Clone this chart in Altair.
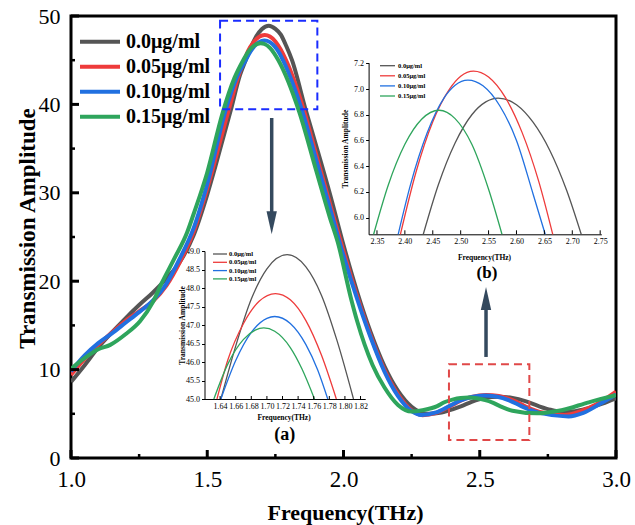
import altair as alt
import pandas as pd

SERIF = "Liberation Serif"
SERIES = ["0.0μg/ml", "0.05μg/ml", "0.10μg/ml", "0.15μg/ml"]
COLORS = ["#555555", "#ee3b3b", "#2170e0", "#2ea55c"]

# ---------------- main curves ----------------
k_x = [1.00, 1.05, 1.10, 1.15, 1.20, 1.25, 1.30, 1.35, 1.40, 1.45, 1.50, 1.53, 1.586, 1.62, 1.641, 1.66, 1.68,
       1.70, 1.726, 1.75, 1.77, 1.79, 1.811, 1.862, 1.90, 1.95, 2.00, 2.05, 2.10, 2.15, 2.20, 2.25, 2.31, 2.36,
       2.40, 2.433, 2.47, 2.52, 2.57, 2.62, 2.67, 2.716, 2.76, 2.80, 2.85, 2.90, 2.95, 3.00]
k_y = [8.6, 10.5, 12.5, 14.2, 15.8, 17.3, 18.7, 20.3, 22.2, 25.2, 29.8, 33.0, 39.3, 43.3, 45.0, 46.43, 47.7,
       48.5, 48.9, 48.55, 47.9, 46.6, 45.0, 39.3, 35.3, 29.9, 24.1, 18.8, 14.2, 10.4, 7.6, 5.8, 5.0, 5.15,
       5.5, 5.87, 6.35, 6.8, 6.93, 6.8, 6.4, 5.87, 5.45, 5.25, 5.3, 5.65, 6.15, 6.75]

r_x = [1.00, 1.05, 1.10, 1.15, 1.20, 1.25, 1.30, 1.35, 1.40, 1.45, 1.50, 1.578, 1.62, 1.636, 1.65, 1.67, 1.69,
       1.711, 1.73, 1.75, 1.77, 1.789, 1.855, 1.90, 1.95, 2.00, 2.05, 2.10, 2.15, 2.20, 2.25, 2.29, 2.34, 2.392,
       2.43, 2.47, 2.523, 2.57, 2.62, 2.665, 2.72, 2.81, 2.87, 2.93, 3.00]
r_y = [9.4, 11.2, 12.8, 14.2, 15.5, 16.6, 17.7, 19.5, 22.2, 25.6, 30.5, 39.3, 43.7, 45.0, 46.06, 47.04, 47.64,
       47.85, 47.68, 47.12, 46.18, 45.0, 39.3, 34.3, 28.8, 23.4, 18.3, 13.8, 10.0, 7.2, 5.4, 4.85, 5.1, 5.87,
       6.49, 6.91, 7.14, 7.02, 6.56, 5.87, 5.2, 4.87, 5.3, 6.1, 7.5]

b_x = [1.00, 1.05, 1.10, 1.15, 1.20, 1.25, 1.30, 1.35, 1.40, 1.45, 1.50, 1.567, 1.61, 1.641, 1.66, 1.68, 1.70,
       1.71, 1.73, 1.75, 1.765, 1.778, 1.848, 1.90, 1.95, 2.00, 2.05, 2.10, 2.15, 2.20, 2.25, 2.285, 2.34, 2.388,
       2.43, 2.47, 2.515, 2.56, 2.61, 2.652, 2.72, 2.826, 2.88, 2.94, 3.00]
b_y = [9.8, 11.6, 13.0, 14.1, 15.3, 16.5, 17.8, 19.7, 22.6, 26.0, 31.0, 39.3, 43.2, 45.0, 46.04, 46.8, 47.18,
       47.23, 47.04, 46.47, 45.79, 45.0, 39.3, 33.7, 28.3, 22.9, 18.0, 13.6, 9.8, 7.0, 5.3, 4.87, 5.15, 5.87,
       6.52, 6.9, 7.07, 6.95, 6.5, 5.87, 5.1, 4.7, 5.1, 6.1, 7.2]

g_x = [1.00, 1.05, 1.10, 1.144, 1.20, 1.254, 1.30, 1.33, 1.38, 1.426, 1.45, 1.50, 1.556, 1.60, 1.632, 1.65, 1.67,
       1.685, 1.696, 1.71, 1.73, 1.745, 1.761, 1.836, 1.90, 1.95, 1.979, 2.028, 2.05, 2.107, 2.15, 2.20, 2.25,
       2.29, 2.344, 2.37, 2.40, 2.43, 2.458, 2.49, 2.52, 2.545, 2.574, 2.62, 2.71, 2.80, 2.90, 3.00]
g_y = [10.1, 11.3, 12.3, 12.8, 14.0, 15.5, 17.6, 19.6, 22.6, 25.5, 27.6, 32.3, 39.0, 43.0, 45.0, 45.95, 46.61,
       46.86, 46.92, 46.83, 46.39, 45.81, 45.0, 39.3, 32.5, 27.2, 24.4, 18.0, 15.5, 10.5, 8.0, 6.0, 5.25,
       5.4, 5.87, 6.31, 6.61, 6.79, 6.835, 6.76, 6.55, 6.3, 5.87, 5.35, 5.05, 5.4, 6.3, 7.1]

# ---------------- inset (a) ----------------
ak_x = [1.641, 1.66, 1.68, 1.70, 1.726, 1.75, 1.77, 1.79, 1.811]
ak_y = [45.0, 46.43, 47.7, 48.52, 48.9, 48.57, 47.8, 46.57, 45.0]
ar_x = [1.636, 1.65, 1.67, 1.69, 1.711, 1.73, 1.75, 1.77, 1.789]
ar_y = [45.0, 46.06, 47.04, 47.64, 47.85, 47.68, 47.12, 46.18, 45.0]
ab_x = [1.641, 1.66, 1.68, 1.70, 1.71, 1.73, 1.75, 1.765, 1.778]
ab_y = [45.0, 46.04, 46.8, 47.18, 47.23, 47.04, 46.47, 45.79, 45.0]
ag_x = [1.632, 1.65, 1.67, 1.685, 1.696, 1.71, 1.73, 1.745, 1.761]
ag_y = [45.0, 45.95, 46.61, 46.86, 46.92, 46.83, 46.39, 45.81, 45.0]

# ---------------- inset (b) ----------------
bk_x = [2.433, 2.46, 2.49, 2.52, 2.545, 2.567, 2.60, 2.63, 2.66, 2.69, 2.716]
bk_y = [5.87, 6.255, 6.58, 6.80, 6.90, 6.93, 6.878, 6.74, 6.52, 6.21, 5.87]
br_x = [2.392, 2.42, 2.45, 2.48, 2.50, 2.523, 2.55, 2.58, 2.61, 2.64, 2.665]
br_y = [5.87, 6.355, 6.746, 7.0, 7.10, 7.14, 7.094, 6.935, 6.663, 6.28, 5.87]
bb_x = [2.388, 2.41, 2.44, 2.47, 2.49, 2.513, 2.54, 2.57, 2.60, 2.63, 2.6515]
bb_y = [5.87, 6.255, 6.66, 6.93, 7.03, 7.07, 7.025, 6.87, 6.60, 6.18, 5.87]
bg_x = [2.344, 2.37, 2.40, 2.43, 2.4615, 2.49, 2.52, 2.55, 2.574]
bg_y = [5.87, 6.25, 6.57, 6.765, 6.835, 6.77, 6.57, 6.22, 5.87]

# tick values
main_xticks = [1.0, 1.5, 2.0, 2.5, 3.0]
main_xminor = [1.25, 1.75, 2.25, 2.75]
main_yticks = [0, 10, 20, 30, 40, 50]
main_yminor = [5, 15, 25, 35, 45]
a_xticks = [1.64, 1.66, 1.68, 1.70, 1.72, 1.74, 1.76, 1.78, 1.80, 1.82]
a_yticks = [45.0, 45.5, 46.0, 46.5, 47.0, 47.5, 48.0, 48.5, 49.0]
b_xticks = [2.35, 2.40, 2.45, 2.50, 2.55, 2.60, 2.65, 2.70, 2.75]
b_yticks = [6.0, 6.2, 6.4, 6.6, 6.8, 7.0, 7.2]

# zoom boxes and arrows (data coordinates of the main axes)
box_x1 = [1.547, 2.387]
box_x2 = [1.904, 2.682]
box_y1 = [39.45, 2.04]
box_y2 = [49.47, 10.6]
box_col = ["#1a2cff", "#e04848"]
arrow_x = [1.7365, 2.523]
arrow_y1 = [38.46, 11.43]
arrow_y2 = [27.8, 16.74]
head_y = [26.6, 18.04]

W, H = 545, 442


def long_df(pairs):
    rows = []
    for name, (xs, ys) in zip(SERIES, pairs):
        for x, y in zip(xs, ys):
            rows.append({"series": name, "x": x, "y": y})
    return pd.DataFrame(rows)


main_df = long_df([(k_x, k_y), (r_x, r_y), (b_x, b_y), (g_x, g_y)])
a_df = long_df([(ak_x, ak_y), (ar_x, ar_y), (ab_x, ab_y), (ag_x, ag_y)])
b_df = long_df([(bk_x, bk_y), (br_x, br_y), (bb_x, bb_y), (bg_x, bg_y)])

color_scale = alt.Scale(domain=SERIES, range=COLORS)

# ---------------- main group ----------------
mX = alt.X("x:Q", scale=alt.Scale(domain=[1, 3], nice=False, zero=False),
           axis=alt.Axis(orient="bottom", values=main_xticks, format=".1f", domain=False, ticks=False,
                         grid=False, labelFont=SERIF, labelFontSize=23, labelPadding=10, labelFlush=False,
                         labelColor="black", title="Frequency(THz)", titleFont=SERIF, titleFontSize=22,
                         titleFontWeight="bold", titleColor="black", titleX=274, titleY=54,
                         titleBaseline="middle"))
mY = alt.Y("y:Q", scale=alt.Scale(domain=[0, 50], nice=False, zero=False),
           axis=alt.Axis(orient="left", values=main_yticks, format="d", domain=False, ticks=False,
                         grid=False, labelFont=SERIF, labelFontSize=22, labelPadding=11, labelColor="black",
                         title="Transmission Amplitude", titleFont=SERIF, titleFontSize=23,
                         titleFontWeight="bold", titleColor="black", titleX=-44, titleY=212,
                         titleBaseline="middle", titleAngle=-90, titleAlign="center"))

main_lines = alt.Chart(main_df).mark_line(strokeWidth=4, interpolate="monotone", clip=True).encode(
    x=mX, y=mY, color=alt.Color("series:N", sort=SERIES, scale=color_scale, legend=None))

xt_major = alt.Chart(pd.DataFrame({"x": main_xticks})).mark_rule(color="black", strokeWidth=3).encode(
    x=mX, y=alt.value(H), y2=alt.value(H - 8))
xt_minor = alt.Chart(pd.DataFrame({"x": main_xminor})).mark_rule(color="black", strokeWidth=2.5).encode(
    x=mX, y=alt.value(H), y2=alt.value(H - 4))
yt_major = alt.Chart(pd.DataFrame({"y": main_yticks})).mark_rule(color="black", strokeWidth=3).encode(
    y=mY, x=alt.value(0), x2=alt.value(8))
yt_minor = alt.Chart(pd.DataFrame({"y": main_yminor})).mark_rule(color="black", strokeWidth=2.5).encode(
    y=mY, x=alt.value(0), x2=alt.value(4))

box_df = pd.DataFrame({"x": box_x1, "x2": box_x2, "y": box_y1, "y2": box_y2, "c": box_col})
boxes = alt.Chart(box_df).mark_rect(filled=False, strokeWidth=2, strokeDash=[8, 5]).encode(
    x=mX, x2="x2:Q", y=mY, y2="y2:Q", stroke=alt.Stroke("c:N", scale=None))

arr_df = pd.DataFrame({"x": arrow_x, "y": arrow_y1, "y2": arrow_y2, "hy": head_y,
                       "shape": ["M-0.45,-1L0.45,-1L0,1Z", "M-0.45,1L0.45,1L0,-1Z"]})
shafts = alt.Chart(arr_df).mark_rule(color="#34495e", strokeWidth=3.5).encode(x=mX, y=mY, y2="y2:Q")
heads = alt.Chart(arr_df).transform_calculate(y="datum.hy").mark_point(
    filled=True, size=529, color="#34495e", opacity=1).encode(
    x=mX, y=mY, shape=alt.Shape("shape:N", scale=None))

main_group = alt.layer(main_lines, boxes, shafts, heads, xt_major, xt_minor, yt_major, yt_minor)

# ---------------- inset (a) ----------------
small_axis = dict(labelFont=SERIF, labelFontSize=8, labelColor="black", domainColor="black", domainWidth=1,
                  grid=False, titleFont=SERIF, titleFontWeight="bold", titleColor="black", titleFontSize=7.5,
                  labelFlush=False, labelOverlap=False)

aX = alt.X("x:Q", scale=alt.Scale(domain=[1.62, 1.826], range=[133.5, 294.2], nice=False, zero=False),
           axis=alt.Axis(orient="bottom", offset=383 - H, values=a_xticks, format=".2f", ticks=False,
                         labelPadding=3, title="Frequency(THz)", titleX=212.6, titleY=18,
                         titleBaseline="middle", **small_axis))
aY = alt.Y("y:Q", scale=alt.Scale(domain=[45, 49], range=[383, 235], nice=False, zero=False),
           axis=alt.Axis(orient="left", offset=-133.5, values=a_yticks, format=".1f", tickSize=3,
                         tickColor="black", labelPadding=2, title="Transmission Amplitude", titleX=-22.5,
                         titleY=309, titleBaseline="middle", titleAngle=-90, titleAlign="center",
                         **small_axis))

a_lines = alt.Chart(a_df).mark_line(strokeWidth=1.3, interpolate="monotone", clip=True).encode(
    x=aX, y=aY, color=alt.Color("series:N", sort=SERIES, scale=color_scale, legend=None))
a_ticks = alt.Chart(pd.DataFrame({"x": a_xticks})).mark_rule(color="black", strokeWidth=1).encode(
    x=aX, y=alt.value(383), y2=alt.value(380))
a_label = alt.Chart(pd.DataFrame({"x": [1.723], "y": [44.03], "t": ["(a)"]})).mark_text(
    font=SERIF, fontSize=18, fontWeight="bold", color="black", baseline="middle").encode(x=aX, y=aY, text="t:N")
a_group = alt.layer(a_lines, a_ticks, a_label)

# ---------------- inset (b) ----------------
bX = alt.X("x:Q", scale=alt.Scale(domain=[2.335, 2.752], range=[297.6, 530.3], nice=False, zero=False),
           axis=alt.Axis(orient="bottom", offset=218.3 - H, values=b_xticks, format=".2f", ticks=False,
                         labelPadding=3, title="Frequency(THz)", titleX=413, titleY=22.7,
                         titleBaseline="middle", **small_axis))
bY = alt.Y("y:Q", scale=alt.Scale(domain=[5.87, 7.205], range=[218.3, 46.7], nice=False, zero=False),
           axis=alt.Axis(orient="left", offset=-297.6, values=b_yticks, format=".1f", tickSize=3,
                         tickColor="black", labelPadding=2, title="Transmission Amplitude", titleX=-23.6,
                         titleY=132.5, titleBaseline="middle", titleAngle=-90, titleAlign="center",
                         **small_axis))

b_lines = alt.Chart(b_df).mark_line(strokeWidth=1.3, interpolate="monotone", clip=True).encode(
    x=bX, y=bY, color=alt.Color("series:N", sort=SERIES, scale=color_scale, legend=None))
b_ticks = alt.Chart(pd.DataFrame({"x": b_xticks})).mark_rule(color="black", strokeWidth=1).encode(
    x=bX, y=alt.value(218.3), y2=alt.value(214.3))
b_label = alt.Chart(pd.DataFrame({"x": [2.547], "y": [5.569], "t": ["(b)"]})).mark_text(
    font=SERIF, fontSize=17, fontWeight="bold", color="black", baseline="middle").encode(x=bX, y=bY, text="t:N")
b_group = alt.layer(b_lines, b_ticks, b_label)


# ---------------- legends (key boxes drawn as rule + text, pixel layout) ----------------
def legend_layer(x0, length, y0, step, font_size, stroke_w, gap):
    ldf = pd.DataFrame({"series": SERIES, "i": list(range(len(SERIES)))})
    base = alt.Chart(ldf).transform_calculate(
        lx=f"{x0}", lx2=f"{x0 + length}", tx=f"{x0 + length + gap}", ly=f"{y0} + {step} * datum.i")
    sym = base.mark_rule(strokeWidth=stroke_w).encode(
        x=alt.X("lx:Q", scale=None, axis=None), x2="lx2:Q",
        y=alt.Y("ly:Q", scale=None, axis=None),
        color=alt.Color("series:N", scale=color_scale, legend=None))
    txt = base.mark_text(align="left", baseline="middle", font=SERIF, fontSize=font_size,
                         fontWeight="bold", color="black").encode(
        x=alt.X("tx:Q", scale=None, axis=None), y=alt.Y("ly:Q", scale=None, axis=None), text="series:N")
    return alt.layer(sym, txt)


main_legend = legend_layer(9, 40, 25.7, 25, 20, 4, 6)
a_legend = legend_layer(142, 14, 238, 8.3, 6.5, 1.3, 2)
b_legend = legend_layer(309, 15, 49.7, 10.1, 6.5, 1.3, 3)

chart = alt.layer(main_group, a_group, b_group, main_legend, a_legend, b_legend).resolve_scale(
    x="independent", y="independent", color="independent"
).properties(
    width=W, height=H, autosize="none",
    padding={"left": 71, "top": 16, "right": 19, "bottom": 67},
    background="white",
).configure_view(stroke="black", strokeWidth=3)

chart.save("out.html", embed_options={"renderer": "svg", "actions": False})
